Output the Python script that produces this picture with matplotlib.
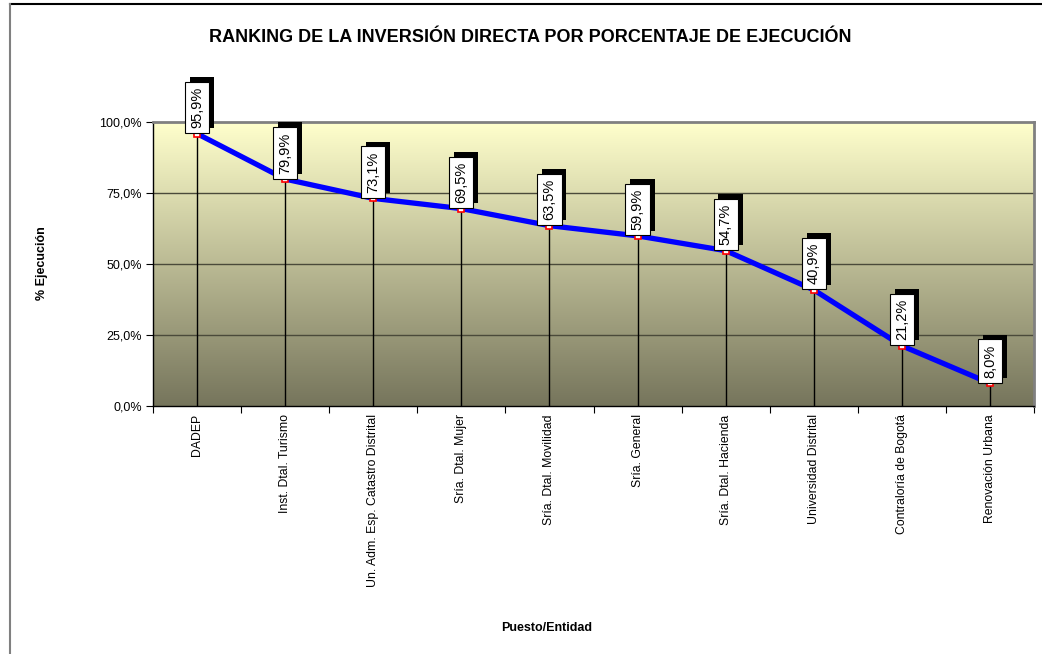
import matplotlib
matplotlib.use("Agg")
import matplotlib.pyplot as plt
import matplotlib.patheffects as pe
from matplotlib.lines import Line2D
from matplotlib.ticker import FixedLocator, FuncFormatter
import numpy as np

plt.rcParams['font.family'] = ['Liberation Sans', 'DejaVu Sans']

# Datos del ranking
entidades = ['DADEP', 'Inst. Dtal. Turismo', 'Un. Adm. Esp. Catastro Distrital',
             'Sría. Dtal. Mujer', 'Sría. Dtal. Movilidad', 'Sría. General',
             'Sría. Dtal. Hacienda', 'Universidad Distrital', 'Contraloría de Bogotá',
             'Renovación Urbana']
ejecucion = [95.9, 79.9, 73.1, 69.5, 63.5, 59.9, 54.7, 40.9, 21.2, 8.0]
yticks = [0, 25, 50, 75, 100]

W, H = 1042, 654
fig = plt.figure(figsize=(W / 100, H / 100), dpi=100)
ax = fig.add_axes([153 / W, (H - 406) / H, (1034 - 153) / W, (406 - 122) / H])

n = len(entidades)
x = np.arange(n)
ax.set_xlim(-0.5, n - 0.5)
ax.set_ylim(0, 100)

# fondo degradado
grad = np.linspace(0, 1, 256).reshape(-1, 1)
top = np.array([255, 255, 204]) / 255
bot = np.array([118, 117, 92]) / 255
img = top + (bot - top) * grad[..., None]
ax.imshow(img, extent=(-0.5, n - 0.5, 0, 100), aspect='auto', origin='upper', zorder=0)

for yv in yticks[1:-1]:
    ax.axhline(yv, color='#4a4a3a', lw=1, zorder=1)

ax.vlines(x, 0, ejecucion, color='black', lw=1, zorder=2)
ax.plot(x, ejecucion, color='#0000ff', lw=3.8, zorder=3)
ax.plot(x, ejecucion, ls='none', marker='s', ms=5, mfc='white', mec='red', mew=1.2, zorder=4)

for xi, v in zip(x, ejecucion):
    t = ax.annotate(f"{v:.1f}%".replace('.', ','), (xi, v), xytext=(0, 4),
                    textcoords='offset points', rotation=90, ha='center', va='bottom',
                    fontsize=10.5, zorder=6,
                    bbox=dict(boxstyle='square,pad=0.35', fc='white', ec='black', lw=0.8))
    t.get_bbox_patch().set_path_effects([
        pe.SimplePatchShadow(offset=(3.5, 3.5), shadow_rgbFace='black', alpha=1),
        pe.Normal()])

# ejes
ax.xaxis.set_major_locator(FixedLocator(np.arange(-0.5, n, 1)))
ax.xaxis.set_minor_locator(FixedLocator(x))
ax.set_xticklabels([])
ax.set_xticklabels(entidades, minor=True, rotation=90, fontsize=8.8, va='top')
ax.tick_params(axis='x', which='major', direction='out', length=5, color='black')
ax.tick_params(axis='x', which='minor', length=0, pad=6)
ax.set_yticks(yticks)
ax.yaxis.set_major_formatter(FuncFormatter(lambda v, p: f"{v:.1f}%".replace('.', ',')))
ax.tick_params(axis='y', direction='out', length=5, labelsize=9, pad=3)

for s in ['top', 'right']:
    ax.spines[s].set_color('#808080')
    ax.spines[s].set_linewidth(2)
for s in ['left', 'bottom']:
    ax.spines[s].set_color('black')
    ax.spines[s].set_linewidth(1)

fig.text(530 / W, 1 - 38 / H, 'RANKING DE LA INVERSIÓN DIRECTA POR PORCENTAJE DE EJECUCIÓN',
         ha='center', va='center', fontsize=13, fontweight='bold')
fig.text(42 / W, 1 - 263 / H, '% Ejecución', rotation=90, ha='center', va='center',
         fontsize=9, fontweight='bold')
fig.text(547 / W, 1 - 628 / H, 'Puesto/Entidad', ha='center', va='center',
         fontsize=9, fontweight='bold')

# marco exterior
fig.add_artist(Line2D([10 / W, 1], [1 - 4 / H, 1 - 4 / H], color='black', lw=1.5))
fig.add_artist(Line2D([10 / W, 10 / W], [0, 1 - 4 / H], color='#808080', lw=1.5))

fig.savefig('out.png', dpi=100)
